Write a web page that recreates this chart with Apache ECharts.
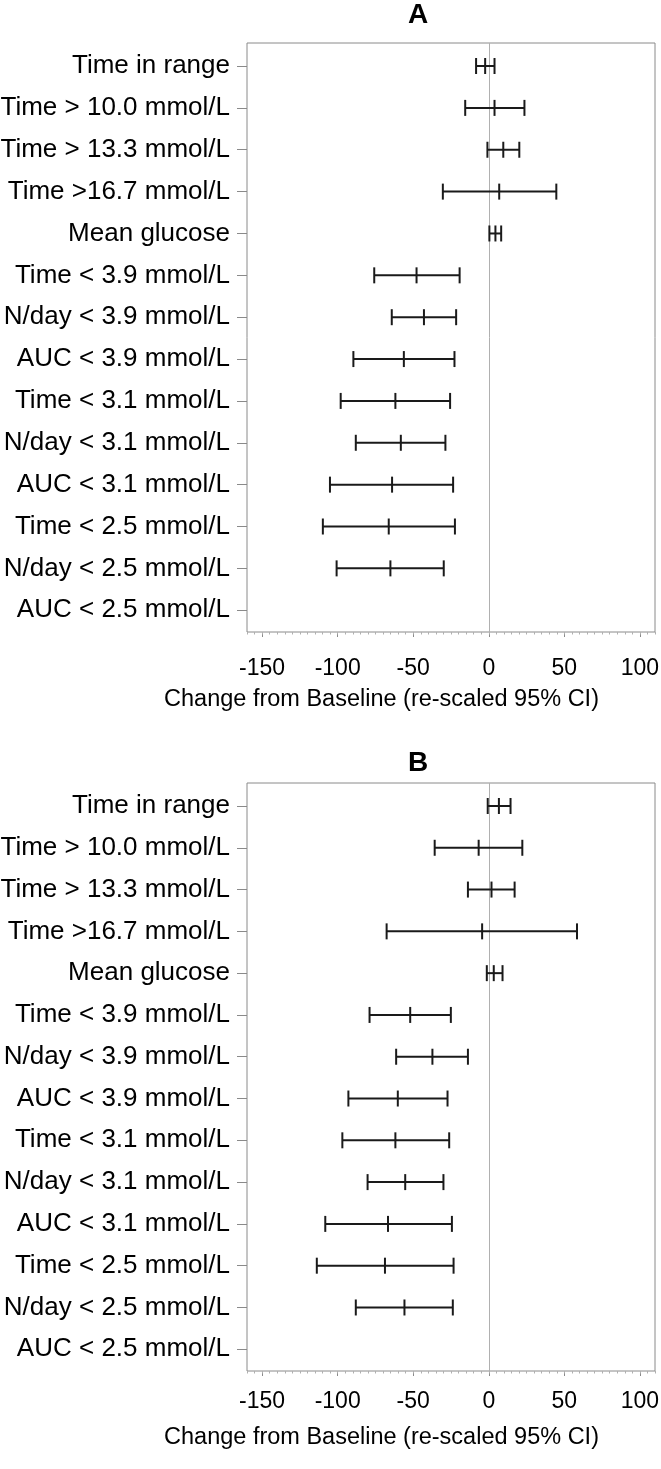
<!DOCTYPE html>
<html>
<head>
<meta charset="utf-8">
<script src="https://cdn.jsdelivr.net/npm/echarts@6/dist/echarts.min.js"></script>
<style>
html,body{margin:0;padding:0;background:#fff;}
#chart{width:661px;height:1469px;}
</style>
</head>
<body>
<div id="chart"></div>
<script>
const categories = ['Time in range','Time > 10.0 mmol/L','Time > 13.3 mmol/L','Time >16.7 mmol/L','Mean glucose','Time < 3.9 mmol/L','N/day < 3.9 mmol/L','AUC < 3.9 mmol/L','Time < 3.1 mmol/L','N/day < 3.1 mmol/L','AUC < 3.1 mmol/L','Time < 2.5 mmol/L','N/day < 2.5 mmol/L','AUC < 2.5 mmol/L'];

const lowerA = [-8.4,-15.6,-0.9,-30.4,0.4,-75.8,-64.2,-89.6,-98,-88,-105.1,-109.8,-100.7,null];
const estA   = [-2.4,3.8,9.6,6.9,4.4,-47.8,-42.9,-56.2,-61.8,-58.2,-64,-66.2,-65.1,null];
const upperA = [3.8,23.6,20.2,44.7,8.2,-19.3,-21.6,-22.7,-25.6,-28.7,-23.6,-22.4,-29.8,null];

const lowerB = [-0.7,-35.8,-13.8,-67.6,-1.3,-78.9,-61.3,-92.9,-96.9,-80.2,-108.2,-113.8,-88,null];
const estB   = [6.7,-6.7,1.8,-4.4,3.3,-52,-37.3,-60.2,-61.8,-55.3,-66.7,-68.7,-55.8,null];
const upperB = [14.4,22.2,17.1,58.4,9.1,-25.1,-13.8,-27.3,-26.2,-30,-24.4,-23.3,-23.8,null];

const xTickLabels = [-150,-100,-50,0,50,100];
const referenceValue = 0;
const panelTitles = ['A','B'];
const xAxisTitle = 'Change from Baseline (re-scaled 95% CI)';

const FONT = '"Liberation Sans", Arial, sans-serif';
const rowIdx = categories.map((c,i)=>i);

function buildData(lo, est, hi){
  const out = [];
  for (let i=0;i<categories.length;i++){
    if (lo[i]==null || est[i]==null || hi[i]==null) continue;
    out.push([i, lo[i], est[i], hi[i]]);
  }
  return out;
}

function renderItem(params, api){
  const y = api.value(0);
  const pL = api.coord([api.value(1), y]);
  const pM = api.coord([api.value(2), y]);
  const pH = api.coord([api.value(3), y]);
  const h = 8;
  const st = {stroke:'#1a1a1a', lineWidth:2};
  return {type:'group', children:[
    {type:'line', shape:{x1:pL[0], y1:pL[1], x2:pH[0], y2:pH[1]}, style:st},
    {type:'line', shape:{x1:pL[0], y1:pL[1]-h, x2:pL[0], y2:pL[1]+h}, style:st},
    {type:'line', shape:{x1:pM[0], y1:pM[1]-h, x2:pM[0], y2:pM[1]+h}, style:st},
    {type:'line', shape:{x1:pH[0], y1:pH[1]-h, x2:pH[0], y2:pH[1]+h}, style:st}
  ]};
}

const grids = [
  {left:247, top:43, width:408, height:589, show:true, borderColor:'#8a8a8a', borderWidth:1, backgroundColor:'transparent', containLabel:false, outerBoundsMode:'none'},
  {left:247, top:783, width:408, height:588, show:true, borderColor:'#8a8a8a', borderWidth:1, backgroundColor:'transparent', containLabel:false, outerBoundsMode:'none'}
];
const labelMargins = [25, 19];

const xAxes = [], yAxes = [];
[0,1].forEach(g=>{
  xAxes.push({
    type:'value', gridIndex:g, min:-160, max:110, position:'bottom',
    axisLine:{show:false, onZero:false}, splitLine:{show:false},
    axisTick:{show:true, length:5, customValues:xTickLabels, lineStyle:{color:'#8a8a8a', width:1}},
    axisLabel:{show:true, customValues:xTickLabels, fontSize:23, fontFamily:FONT, color:'#000', margin:labelMargins[g]}
  });
  xAxes.push({
    type:'value', gridIndex:g, min:-160, max:110, interval:5, position:'bottom', offset:0,
    axisLine:{show:false, onZero:false}, splitLine:{show:false},
    axisTick:{show:true, length:2.5, lineStyle:{color:'#b0b0b0', width:1}},
    axisLabel:{show:false}
  });
  yAxes.push({
    type:'value', gridIndex:g, inverse:true, min:-0.55, max:13.52, position:'left',
    axisLine:{show:false, onZero:false}, splitLine:{show:false},
    axisTick:{show:true, length:10, customValues:rowIdx, lineStyle:{color:'#8a8a8a', width:1}},
    axisLabel:{show:true, customValues:rowIdx, margin:17, fontSize:26, fontFamily:FONT, color:'#000',
      formatter:(v)=>categories[Math.round(v)]}
  });
});

function makeSeries(g, lo, est, hi){
  return {
    type:'custom', xAxisIndex:g*2, yAxisIndex:g, renderItem:renderItem,
    data:buildData(lo,est,hi), encode:{x:[1,2,3], y:0}, silent:true, z:5,
    markLine:{silent:true, symbol:['none','none'], label:{show:false}, animation:false,
      lineStyle:{color:'#b0b0b0', width:1, type:'solid', opacity:1},
      emphasis:{disabled:true},
      data:[{xAxis:referenceValue}]}
  };
}

const chart = echarts.init(document.getElementById('chart'), null, {renderer:'canvas'});
chart.setOption({
  animation:false,
  backgroundColor:'#fff',
  grid:grids,
  xAxis:xAxes,
  yAxis:yAxes,
  series:[makeSeries(0,lowerA,estA,upperA), makeSeries(1,lowerB,estB,upperB)],
  graphic:[
    {type:'text', x:418, y:15, style:{text:panelTitles[0], fill:'#000', font:'bold 28px '+FONT, align:'center', verticalAlign:'middle'}},
    {type:'text', x:418, y:763.5, style:{text:panelTitles[1], fill:'#000', font:'bold 28px '+FONT, align:'center', verticalAlign:'middle'}},
    {type:'text', x:381.5, y:700, style:{text:xAxisTitle, fill:'#000', font:'23.5px '+FONT, align:'center', verticalAlign:'middle'}},
    {type:'text', x:381.5, y:1437.8, style:{text:xAxisTitle, fill:'#000', font:'23.5px '+FONT, align:'center', verticalAlign:'middle'}}
  ]
});
</script>
</body>
</html>
